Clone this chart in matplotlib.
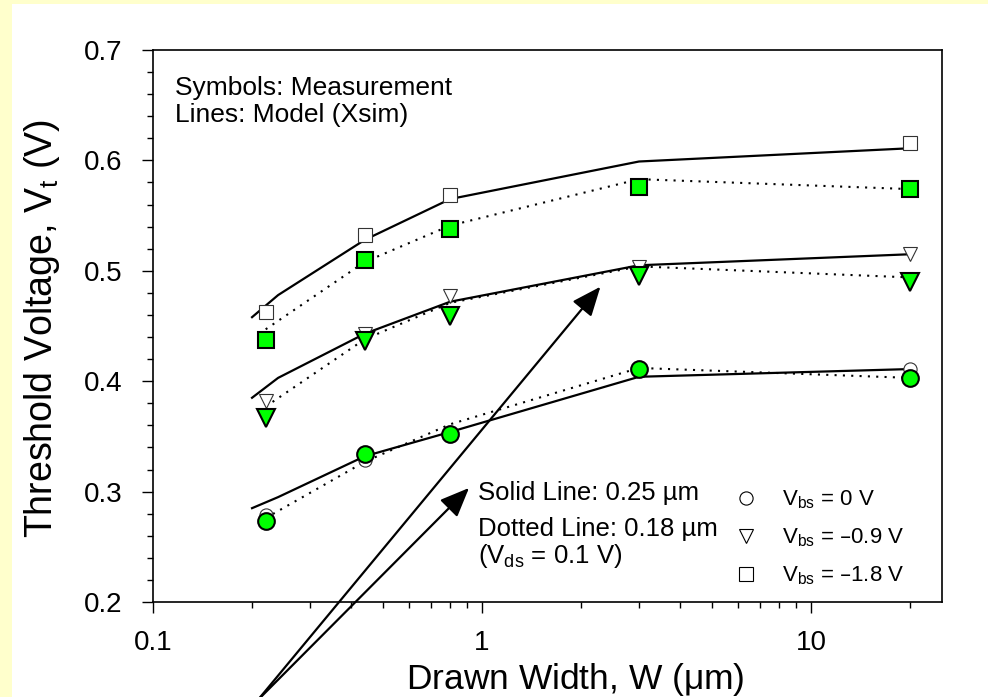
import numpy as np
import matplotlib
matplotlib.use("Agg")
import matplotlib.pyplot as plt
from matplotlib.lines import Line2D
from matplotlib.patches import Rectangle
from matplotlib.ticker import LogLocator, MultipleLocator, FixedFormatter, FixedLocator

plt.rcParams["font.family"] = ["Liberation Sans", "DejaVu Sans"]
plt.rcParams["mathtext.default"] = "regular"

# measured widths (um)
W_MEAS = [0.22, 0.44, 0.8, 3.0, 20.0]
# model curves: 0.25 um solid starts a bit earlier
W_SOLID = [0.2, 0.24, 0.44, 0.8, 3.0, 20.0]
W_DOT = [0.22, 0.44, 0.8, 3.0, 20.0]

# Vbs = 0 V
vt0_meas_025 = [0.279, 0.329, 0.352, 0.410, 0.411]
vt0_meas_018 = [0.273, 0.334, 0.352, 0.411, 0.403]
vt0_model_025 = [0.285, 0.295, 0.332, 0.354, 0.404, 0.411]
vt0_model_018 = [0.276, 0.327, 0.361, 0.412, 0.403]

# Vbs = -0.9 V
vt09_meas_025 = [0.382, 0.443, 0.477, 0.503, 0.515]
vt09_meas_018 = [0.367, 0.436, 0.459, 0.495, 0.490]
vt09_model_025 = [0.385, 0.403, 0.443, 0.472, 0.505, 0.515]
vt09_model_018 = [0.377, 0.438, 0.471, 0.504, 0.494]

# Vbs = -1.8 V
vt18_meas_025 = [0.463, 0.532, 0.569, 0.577, 0.616]
vt18_meas_018 = [0.437, 0.510, 0.538, 0.576, 0.574]
vt18_model_025 = [0.458, 0.478, 0.528, 0.565, 0.599, 0.611]
vt18_model_018 = [0.447, 0.508, 0.541, 0.583, 0.574]

SERIES = [
    ("o", vt0_meas_025, vt0_meas_018, vt0_model_025, vt0_model_018, "$V_{bs}$ = 0 V"),
    ("v", vt09_meas_025, vt09_meas_018, vt09_model_025, vt09_model_018, "$V_{bs}$ = \u20130.9 V"),
    ("s", vt18_meas_025, vt18_meas_018, vt18_model_025, vt18_model_018, "$V_{bs}$ = \u20131.8 V"),
]

GREEN = "#00FF00"

fig = plt.figure(figsize=(9.88, 6.97), dpi=100, facecolor="#FFFFCC")
fig.patches.append(Rectangle((12 / 988, 0), 1, 693 / 697, transform=fig.transFigure,
                             facecolor="white", edgecolor="none", zorder=-10))
ax = fig.add_axes([153 / 988, 95 / 697, 789 / 988, 552 / 697])

big = {"o": 12, "v": 12.5, "s": 11.5}
small = {"o": 9.5, "v": 10, "s": 9.5}

for mk, m25, m18, mod25, mod18, lab in SERIES:
    ax.plot(W_SOLID, mod25, color="black", lw=1.6, zorder=2)
    ax.plot(W_DOT, mod18, color="black", lw=1.5, ls=(0, (1, 3)), zorder=2)
    ax.plot(W_MEAS, m25, ls="none", marker=mk, ms=small[mk], mfc="white",
            mec="#333333", mew=0.8, zorder=3)
    ax.plot(W_MEAS, m18, ls="none", marker=mk, ms=big[mk], mfc=GREEN,
            mec="black", mew=1.5, zorder=4)

ax.set_xscale("log")
ax.set_xlim(0.1, 25)
ax.set_ylim(0.2, 0.7)
ax.xaxis.set_major_locator(FixedLocator([0.1, 1, 10]))
ax.xaxis.set_major_formatter(FixedFormatter(["0.1", "1", "10"]))
ax.xaxis.set_minor_locator(LogLocator(base=10, subs=np.arange(2, 10)))
ax.yaxis.set_major_locator(MultipleLocator(0.1))
ax.yaxis.set_minor_locator(MultipleLocator(0.02))
ax.tick_params(which="major", direction="out", length=8, width=1, labelsize=20, pad=12)
ax.tick_params(which="minor", direction="out", length=4, width=1)
ax.tick_params(axis="y", which="major", pad=14)
ax.tick_params(top=False, right=False)
for sp in ax.spines.values():
    sp.set_linewidth(1.2)

ax.set_xlabel("Drawn Width, W ($\\mu$m)", fontsize=25.5)
ax.set_ylabel("Threshold Voltage, $V_t$ (V)", fontsize=27)
ax.xaxis.set_label_coords(0.535, -0.107)
ax.yaxis.set_label_coords(-0.115, 0.495)

ax.text(0.028, 0.918, "Symbols: Measurement", transform=ax.transAxes,
        fontsize=19, va="baseline", ha="left")
ax.text(0.028, 0.870, "Lines: Model (Xsim)", transform=ax.transAxes,
        fontsize=19, va="baseline", ha="left")

notes = ["Solid Line: 0.25 \u00b5m", "Dotted Line: 0.18 \u00b5m", "($V_{ds}$ = 0.1 V)"]
note_y = [0.1848, 0.1196, 0.0707]
for txt, yy in zip(notes, note_y):
    ax.text(0.412, yy, txt, transform=ax.transAxes, fontsize=18.5,
            va="baseline", ha="left")

handles = [Line2D([], [], ls="none", marker=s[0], ms=small[s[0]], mfc="white",
                  mec="black", mew=0.8) for s in SERIES]
ax.legend(handles, [s[5] for s in SERIES], loc="lower left", bbox_to_anchor=(0.7237, 0.0065),
          frameon=False, fontsize=16, handlelength=1.0, handletextpad=1.1,
          labelspacing=0.69, borderpad=0)

# arrows pointing at the two model families
tail = (0.208, 0.111)
for tip in [(2.29, 0.4856), (0.913, 0.3033)]:
    ax.annotate("", xy=tip, xytext=tail, xycoords="data", annotation_clip=False,
                arrowprops=dict(arrowstyle="-|>,head_length=0.6,head_width=0.25",
                                mutation_scale=30, lw=1.6, color="black",
                                shrinkA=0, shrinkB=0))

fig.savefig("out.png", dpi=100, facecolor=fig.get_facecolor())
